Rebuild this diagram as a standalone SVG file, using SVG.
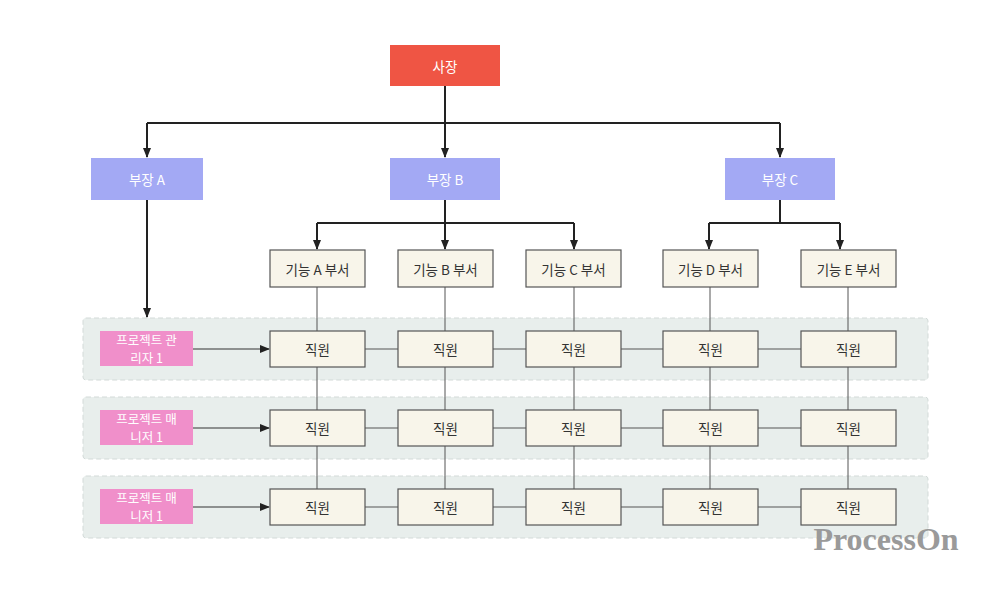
<svg xmlns="http://www.w3.org/2000/svg" width="1000" height="598" viewBox="0 0 1000 598">
<defs>
<style>
text{font-family:"Noto Sans CJK KR","Noto Sans",sans-serif;font-size:13.5px;text-anchor:middle;dominant-baseline:central}
.w{fill:#fff}
.p{fill:#fff;font-size:12.5px}
.d{fill:#333}
.emp{fill:#f8f5ea;stroke:#555;stroke-width:1.2}
.mgr{fill:#a3a9f4}
.pm{fill:#f08fca}
.grp{fill:#e8eeec;stroke:#d3dad8;stroke-width:1;stroke-dasharray:5 3}
.c{fill:none;stroke:#222;stroke-width:2}
.t{fill:none;stroke:#555;stroke-width:1}
.a{fill:none;stroke:#333;stroke-width:1.2}
</style>
<marker id="ah" markerWidth="10" markerHeight="10" refX="9" refY="5" orient="auto" markerUnits="userSpaceOnUse">
<path d="M0,1 L10,5 L0,9 Z" fill="#222"/>
</marker>
</defs>
<rect width="1000" height="598" fill="#fff"/>
<g id="groups">
<rect class="grp" x="83" y="318" width="845" height="62" rx="3"/>
<rect class="grp" x="83" y="397" width="845" height="62" rx="3"/>
<rect class="grp" x="83" y="476" width="845" height="62" rx="3"/>
</g>
<g id="connectors">
<path class="c" d="M445,86 V123 M147,123 H780"/>
<path class="c" d="M147,123 V157" marker-end="url(#ah)"/>
<path class="c" d="M445,123 V157" marker-end="url(#ah)"/>
<path class="c" d="M780,123 V157" marker-end="url(#ah)"/>
<path class="c" d="M147,200 V317" marker-end="url(#ah)"/>
<path class="c" d="M445,200 V223 M317,223 H574 M709,223 H840 M780,200 V223"/>
<path class="c" d="M317,223 V249" marker-end="url(#ah)"/>
<path class="c" d="M445,223 V249" marker-end="url(#ah)"/>
<path class="c" d="M574,223 V249" marker-end="url(#ah)"/>
<path class="c" d="M709,223 V249" marker-end="url(#ah)"/>
<path class="c" d="M840,223 V249" marker-end="url(#ah)"/>
<path class="t" d="M317,287 V489 M445,287 V489 M574,287 V489 M710,287 V489 M848,287 V489"/>
<path class="t" d="M365,349 H801 M365,428 H801 M365,507 H801"/>
<path class="a" d="M193,349 H269" marker-end="url(#ah)"/>
<path class="a" d="M193,428 H269" marker-end="url(#ah)"/>
<path class="a" d="M193,507 H269" marker-end="url(#ah)"/>
</g>
<g id="ceo"><rect x="390" y="45" width="110" height="41" fill="#ef5544"/><text class="w" x="445" y="65.5" font-size="14">사장</text></g>
<g id="mgrA"><rect class="mgr" x="91" y="158" width="112" height="42"/><text class="w" x="147" y="179">부장 A</text></g>
<g id="mgrB"><rect class="mgr" x="390" y="158" width="110" height="42"/><text class="w" x="445" y="179">부장 B</text></g>
<g id="mgrC"><rect class="mgr" x="725" y="158" width="110" height="42"/><text class="w" x="780" y="179">부장 C</text></g>
<g id="fA"><rect class="emp" x="270" y="250" width="95" height="37"/><text class="d" x="317.5" y="268.5">기능 A 부서</text></g>
<g id="fB"><rect class="emp" x="398" y="250" width="95" height="37"/><text class="d" x="445.5" y="268.5">기능 B 부서</text></g>
<g id="fC"><rect class="emp" x="526" y="250" width="95" height="37"/><text class="d" x="573.5" y="268.5">기능 C 부서</text></g>
<g id="fD"><rect class="emp" x="663" y="250" width="95" height="37"/><text class="d" x="710.5" y="268.5">기능 D 부서</text></g>
<g id="fE"><rect class="emp" x="801" y="250" width="95" height="37"/><text class="d" x="848.5" y="268.5">기능 E 부서</text></g>
<g id="pm1"><rect class="pm" x="100" y="331" width="93" height="35"/><text class="p" x="146.5" y="339.5">프로젝트 관</text><text class="p" x="146.5" y="357.5">리자 1</text></g>
<g id="pm2"><rect class="pm" x="100" y="410" width="93" height="35"/><text class="p" x="146.5" y="418.5">프로젝트 매</text><text class="p" x="146.5" y="436.5">니저 1</text></g>
<g id="pm3"><rect class="pm" x="100" y="489" width="93" height="35"/><text class="p" x="146.5" y="497.5">프로젝트 매</text><text class="p" x="146.5" y="515.5">니저 1</text></g>
<g id="r1a"><rect class="emp" x="270" y="331" width="95" height="36"/><text class="d" x="317.5" y="349">직원</text></g>
<g id="r1b"><rect class="emp" x="398" y="331" width="95" height="36"/><text class="d" x="445.5" y="349">직원</text></g>
<g id="r1c"><rect class="emp" x="526" y="331" width="95" height="36"/><text class="d" x="573.5" y="349">직원</text></g>
<g id="r1d"><rect class="emp" x="663" y="331" width="95" height="36"/><text class="d" x="710.5" y="349">직원</text></g>
<g id="r1e"><rect class="emp" x="801" y="331" width="95" height="36"/><text class="d" x="848.5" y="349">직원</text></g>
<g id="r2a"><rect class="emp" x="270" y="410" width="95" height="36"/><text class="d" x="317.5" y="428">직원</text></g>
<g id="r2b"><rect class="emp" x="398" y="410" width="95" height="36"/><text class="d" x="445.5" y="428">직원</text></g>
<g id="r2c"><rect class="emp" x="526" y="410" width="95" height="36"/><text class="d" x="573.5" y="428">직원</text></g>
<g id="r2d"><rect class="emp" x="663" y="410" width="95" height="36"/><text class="d" x="710.5" y="428">직원</text></g>
<g id="r2e"><rect class="emp" x="801" y="410" width="95" height="36"/><text class="d" x="848.5" y="428">직원</text></g>
<g id="r3a"><rect class="emp" x="270" y="489" width="95" height="36"/><text class="d" x="317.5" y="507">직원</text></g>
<g id="r3b"><rect class="emp" x="398" y="489" width="95" height="36"/><text class="d" x="445.5" y="507">직원</text></g>
<g id="r3c"><rect class="emp" x="526" y="489" width="95" height="36"/><text class="d" x="573.5" y="507">직원</text></g>
<g id="r3d"><rect class="emp" x="663" y="489" width="95" height="36"/><text class="d" x="710.5" y="507">직원</text></g>
<g id="r3e"><rect class="emp" x="801" y="489" width="95" height="36"/><text class="d" x="848.5" y="507">직원</text></g>
<text x="886" y="539" style="font-family:'Liberation Serif',serif;font-size:32px;font-weight:bold;fill:#9a9a9a">ProcessOn</text>
</svg>
